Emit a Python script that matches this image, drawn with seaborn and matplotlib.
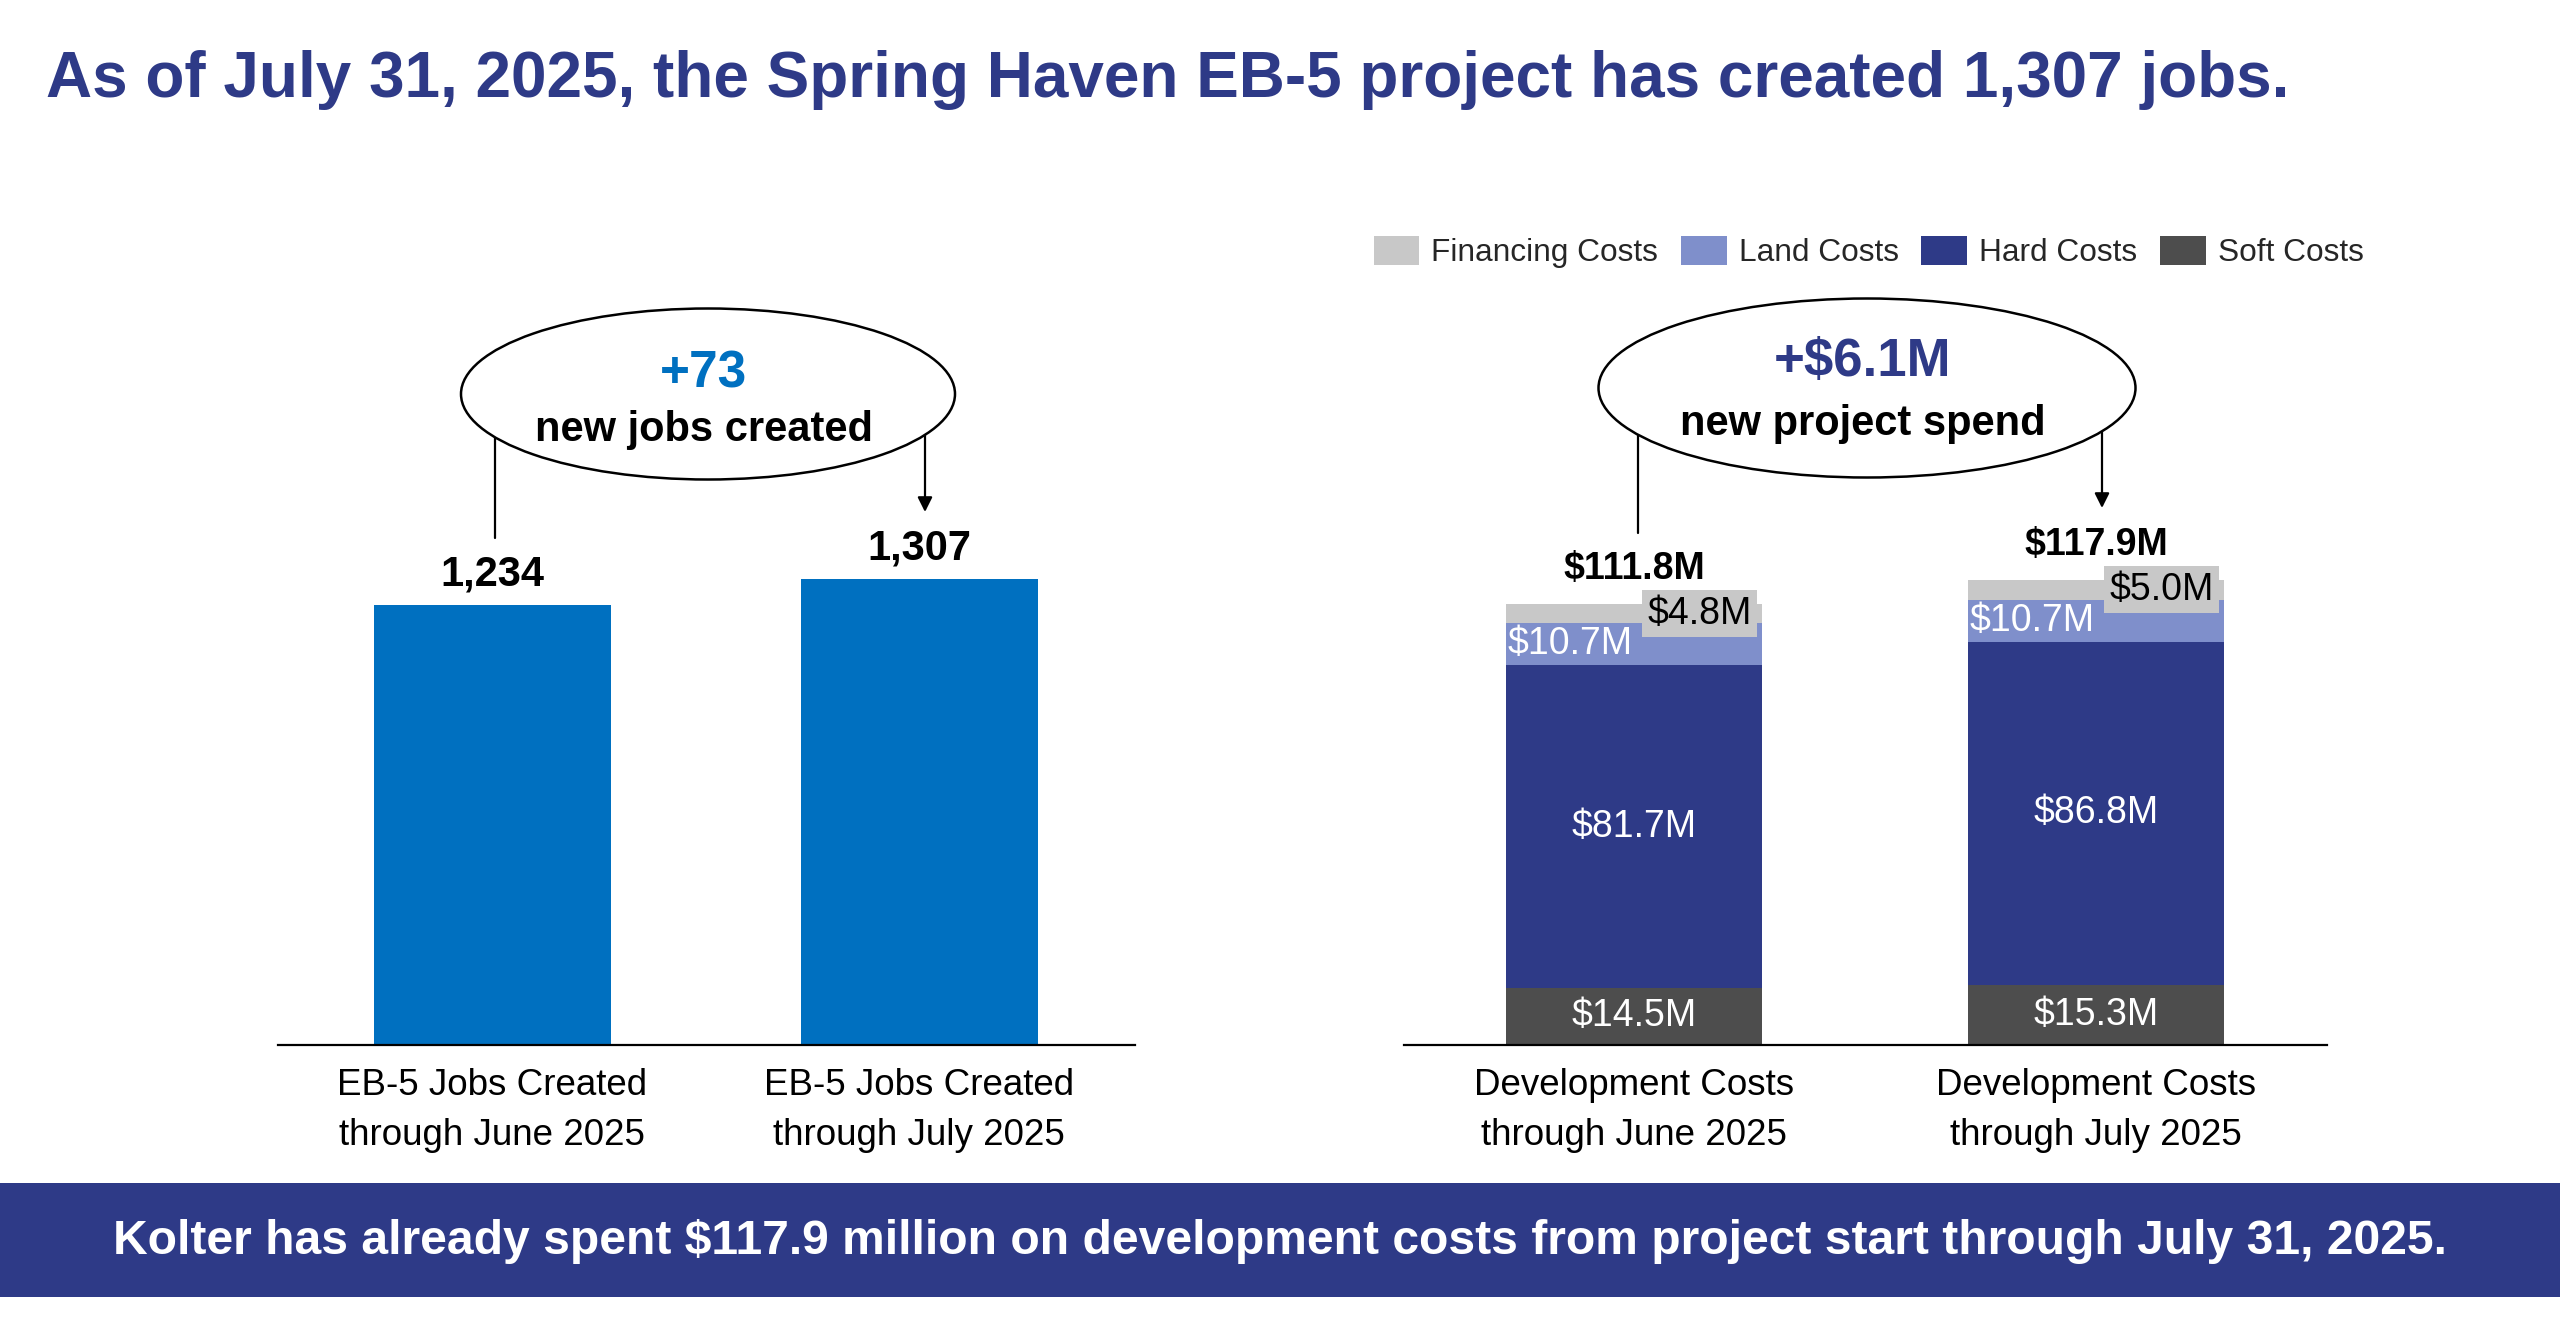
import numpy as np
import matplotlib
matplotlib.use("Agg")
import matplotlib.pyplot as plt
from matplotlib.patches import Ellipse, Rectangle, Patch
import seaborn as sns

# Datos del gráfico
job_labels = ["EB-5 Jobs Created\nthrough June 2025", "EB-5 Jobs Created\nthrough July 2025"]
jobs = [1234, 1307]

cost_labels = ["Development Costs\nthrough June 2025", "Development Costs\nthrough July 2025"]
soft_costs = [14.5, 15.3]
hard_costs = [81.7, 86.8]
land_costs = [10.7, 10.7]
financing_costs = [4.8, 5.0]
total_costs = [111.8, 117.9]

series_names = ["Financing Costs", "Land Costs", "Hard Costs", "Soft Costs"]

NAVY = "#2E3A87"
BLUE = "#0070C0"
LAND = "#7F8FCB"
FIN = "#C8C8C8"
SOFT = "#4D4D4D"

sns.set_theme(style="white")
plt.rcParams["font.family"] = ["Liberation Sans", "DejaVu Sans"]

W, H = 2560, 1324
fig = plt.figure(figsize=(W / 100, H / 100), dpi=100)
fig.patch.set_facecolor("white")


def px_axes(left, right, top, bottom):
    return fig.add_axes([left / W, 1 - bottom / H, (right - left) / W, (bottom - top) / H])


# ---- Panel izquierdo: empleos ----
ax1 = px_axes(278, 1135, 500, 1045)
sns.barplot(x=job_labels, y=jobs, ax=ax1, color=BLUE, saturation=1, width=0.555, linewidth=0)
ax1.set_xlim(-0.502, 1.505)
ax1.set_ylim(0, 545 / (466 / 1307))
for i, v in enumerate(jobs):
    ax1.annotate(f"{v:,}", (i, v), xytext=(0, 22), textcoords="offset points",
                 ha="center", va="center", fontsize=30, fontweight="bold", color="black")

# ---- Panel derecho: costos apilados ----
ax2 = px_axes(1404, 2327, 500, 1045)
lvl_soft = np.array(soft_costs)
lvl_hard = lvl_soft + np.array(hard_costs)
lvl_land = lvl_hard + np.array(land_costs)
lvl_fin = lvl_land + np.array(financing_costs)
bw = 0.554
for lvl, col in [(lvl_fin, FIN), (lvl_land, LAND), (lvl_hard, NAVY), (lvl_soft, SOFT)]:
    sns.barplot(x=cost_labels, y=lvl, ax=ax2, color=col, saturation=1, width=bw, linewidth=0)
ax2.set_xlim(-0.498, 1.5)
ax2.set_ylim(0, 545 / (465 / 117.8))

for i in range(2):
    ax2.text(i, soft_costs[i] / 2, f"${soft_costs[i]}M", ha="center", va="center",
             fontsize=27, color="white")
    ax2.text(i, lvl_soft[i] + hard_costs[i] / 2, f"${hard_costs[i]}M", ha="center", va="center",
             fontsize=27, color="white")
    ax2.text(i - bw / 2 + 0.004, lvl_hard[i] + land_costs[i] / 2, f"${land_costs[i]}M",
             ha="left", va="center", fontsize=27, color="white")
    ax2.text(i + bw / 2 - 0.022, lvl_land[i] + financing_costs[i] / 2, f"${financing_costs[i]}M",
             ha="right", va="center", fontsize=27, color="black",
             bbox=dict(boxstyle="square,pad=0.15", facecolor=FIN, edgecolor="none"))
    ax2.annotate(f"${total_costs[i]}M", (i, lvl_fin[i]), xytext=(0, 25), textcoords="offset points",
                 ha="center", va="center", fontsize=27, fontweight="bold", color="black")

for ax, labels in [(ax1, job_labels), (ax2, cost_labels)]:
    ax.set_xticks([0, 1])
    ax.set_xticklabels(labels, fontsize=26.5, linespacing=1.55, color="black")
    ax.set_yticks([])
    ax.set_ylabel("")
    ax.tick_params(axis="x", length=0, pad=16.5)
    sns.despine(ax=ax, left=True)
    ax.spines["bottom"].set_color("black")
    ax.spines["bottom"].set_linewidth(1.6)
    ax.set_facecolor("none")

# ---- Capa de anotaciones en píxeles ----
ov = fig.add_axes([0, 0, 1, 1], zorder=5)
ov.set_xlim(0, W)
ov.set_ylim(H, 0)
ov.axis("off")
ov.patch.set_alpha(0)

ov.text(46, 97, "As of July 31, 2025, the Spring Haven EB-5 project has created 1,307 jobs.",
        ha="left", va="baseline", fontsize=46, fontweight="bold", color=NAVY)

ov.add_patch(Rectangle((0, 1183), W, 114, facecolor=NAVY, edgecolor="none"))
ov.text(W / 2, 1241, "Kolter has already spent $117.9 million on development costs from project start through July 31, 2025.",
        ha="center", va="center", fontsize=34.6, fontweight="bold", color="white")

callouts = [
    # centro, ancho, alto, x linea, fin linea, x flecha, fin flecha, texto1, color1, size1, dy1, texto2
    ((708, 394), 494, 171, 495, 538, 925, 512, "+73", BLUE, 37, -20, "new jobs created"),
    ((1867, 388), 537, 179, 1638, 533, 2102, 508, "+$6.1M", NAVY, 38, -26, "new project spend"),
]
for (cx, cy), ew, eh, lx, ly, axx, ayy, t1, c1, s1, dy1, t2 in callouts:
    ov.plot([lx, lx], [cy, ly], color="black", lw=1.6, zorder=1)
    ov.annotate("", xy=(axx, ayy), xytext=(axx, cy),
                arrowprops=dict(arrowstyle="-|>", color="black", lw=1.6, mutation_scale=22,
                                shrinkA=0, shrinkB=0), zorder=1)
    ov.add_patch(Ellipse((cx, cy), ew, eh, facecolor="white", edgecolor="black", lw=1.8, zorder=2))
    ov.text(cx - 4, cy + dy1, t1, ha="center", va="center", fontsize=s1, fontweight="bold",
            color=c1, zorder=3)
    ov.text(cx - 4, cy + 36, t2, ha="center", va="center", fontsize=30, fontweight="bold",
            color="black", zorder=3)

# Leyenda
handles = [Patch(facecolor=c, edgecolor="none") for c in [FIN, LAND, NAVY, SOFT]]
fig.legend(handles, series_names, loc="center", bbox_to_anchor=(0.7299, 0.8097), ncol=4,
           frameon=False, fontsize=22.8, handlelength=1.44, handleheight=1.07,
           handletextpad=0.38, columnspacing=0.72, borderaxespad=0, borderpad=0)

fig.savefig("out.png", dpi=100, facecolor="white")
